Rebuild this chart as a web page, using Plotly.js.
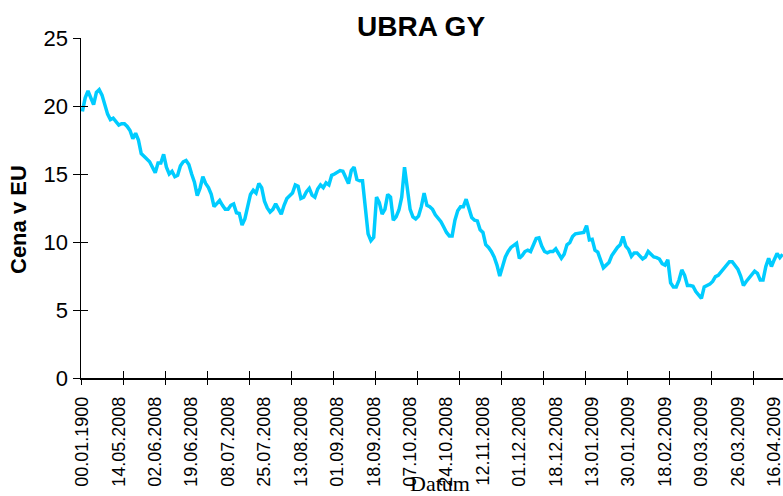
<!DOCTYPE html>
<html>
<head>
<meta charset="utf-8">
<script src="https://cdn.plot.ly/plotly-3.0.1.min.js"></script>
<style>html,body{margin:0;padding:0;background:#fff;}#chart{width:783px;height:496px;}</style>
</head>
<body>
<div id="chart"></div>
<script>
// Category tick labels (one every 13 trading days)
var tickLabels = ["00.01.1900","14.05.2008","02.06.2008","19.06.2008","08.07.2008","25.07.2008",
  "13.08.2008","01.09.2008","18.09.2008","07.10.2008","24.10.2008","12.11.2008","01.12.2008",
  "18.12.2008","13.01.2009","30.01.2009","18.02.2009","09.03.2009","26.03.2009","16.04.2009"];

// Price in EUR, one value per trading day
var prices = [
 19.6,20.6,21.1,20.6,20.1,21.0,21.2,20.8,20.0,19.4,
 19.0,19.1,18.85,18.6,18.7,18.7,18.5,18.2,17.6,18.0,
 17.5,16.5,16.3,16.1,15.9,15.5,15.1,15.8,15.8,16.45,
 15.5,15.0,15.2,14.8,14.9,15.6,15.9,16.0,15.7,15.0,
 14.4,13.4,13.95,14.8,14.3,14.0,13.5,12.6,12.8,13.05,
 12.7,12.4,12.4,12.7,12.8,12.15,12.1,11.25,11.7,12.6,
 13.5,13.8,13.6,14.3,14.0,13.0,12.5,12.2,12.4,12.8,
 12.35,12.05,12.7,13.2,13.4,13.6,14.2,14.1,13.2,13.3,
 13.7,13.95,13.45,13.3,13.9,14.2,14.0,14.35,14.2,14.9,
 15.0,15.1,15.25,15.2,14.7,14.3,15.25,15.5,14.6,14.5,
 14.5,12.8,10.6,10.1,10.35,13.3,12.9,12.05,12.4,13.5,
 13.3,11.6,11.85,12.35,13.3,15.5,13.8,12.4,11.85,11.7,
 11.9,12.6,13.6,12.7,12.6,12.4,12.0,11.75,11.5,11.1,
 10.7,10.45,10.45,11.6,12.3,12.6,12.6,13.15,12.55,11.8,
 11.6,11.55,10.9,10.7,9.8,9.6,9.3,8.9,8.3,7.5,
 8.2,8.9,9.3,9.6,9.75,9.9,8.8,9.0,9.3,9.4,
 9.3,9.8,10.25,10.3,9.7,9.3,9.2,9.3,9.3,9.5,
 9.1,8.8,9.1,9.8,9.95,10.4,10.6,10.65,10.65,10.7,
 11.2,10.15,10.2,9.4,9.25,8.7,8.1,8.3,8.5,9.0,
 9.35,9.6,9.8,10.4,9.7,9.45,8.95,9.2,9.2,8.95,
 8.75,8.9,9.3,9.1,8.9,8.85,8.75,8.4,8.3,8.7,
 7.0,6.7,6.7,7.2,7.95,7.55,6.8,6.8,6.75,6.35,
 6.1,5.85,6.7,6.8,6.9,7.1,7.45,7.55,7.8,8.1,
 8.3,8.55,8.55,8.3,8.0,7.5,6.8,7.1,7.35,7.7,
 7.85,7.7,7.2,7.2,8.2,8.8,8.2,8.7,9.15,8.85,
 9.1
];

var labelEvery = 13, tickEvery = 15;
var idx = prices.map(function(_, i){ return i; });
var labelPos = tickLabels.map(function(_, k){ return k * labelEvery; });
var tickPos = [];
for (var t = -0.5; t < 260; t += tickEvery) tickPos.push(t);
var yTicks = [0,5,10,15,20,25];

var xr = [-0.5, -0.5 + 702/2.801];
var font = "Liberation Sans, Arial, sans-serif";

var data = [
  {x: idx, y: prices, type: 'scatter', mode: 'lines',
   line: {color: '#00CCFF', width: 3.5}, hoverinfo: 'skip', showlegend: false},
  {x: [], y: [], xaxis: 'x2', yaxis: 'y', type: 'scatter', showlegend: false},
  {x: [], y: [], xaxis: 'x3', yaxis: 'y2', type: 'scatter', showlegend: false}
];

var layout = {
  width: 783, height: 496,
  margin: {l: 81, r: 0, t: 38, b: 118, pad: 0},
  paper_bgcolor: '#ffffff', plot_bgcolor: '#ffffff',
  showlegend: false,
  xaxis: {
    range: xr, tickmode: 'array', tickvals: labelPos, ticktext: tickLabels,
    tickangle: -90, ticks: '', ticklabelstandoff: 10, ticklabeloverflow: 'allow',
    tickfont: {family: font, size: 18, color: '#000'},
    showline: true, linecolor: '#000', linewidth: 1.5,
    showgrid: false, zeroline: false, fixedrange: true
  },
  xaxis2: {
    overlaying: 'x', anchor: 'y', side: 'bottom', range: xr,
    tickmode: 'array', tickvals: tickPos, ticks: 'outside', ticklen: 6,
    tickcolor: '#000', tickwidth: 1, showticklabels: false,
    showline: false, showgrid: false, zeroline: false
  },
  xaxis3: {
    overlaying: 'x', anchor: 'y', side: 'bottom', range: xr,
    tickmode: 'array', tickvals: tickPos, ticks: 'inside', ticklen: 7,
    tickcolor: '#000', tickwidth: 1, showticklabels: false,
    showline: false, showgrid: false, zeroline: false
  },
  yaxis: {
    range: [0, 25], tickmode: 'array', tickvals: yTicks,
    ticks: 'outside', ticklen: 7, tickcolor: '#000', tickwidth: 1,
    tickfont: {family: font, size: 22, color: '#000'},
    showline: true, linecolor: '#000', linewidth: 1.5,
    showgrid: false, zeroline: false, fixedrange: true
  },
  yaxis2: {
    overlaying: 'y', anchor: 'x', side: 'left', range: [0, 25],
    tickmode: 'array', tickvals: yTicks, ticks: 'inside', ticklen: 7,
    tickcolor: '#000', tickwidth: 1, showticklabels: false,
    showline: false, showgrid: false, zeroline: false
  },
  annotations: [
    {text: '<b>UBRA GY</b>', xref: 'paper', yref: 'paper',
     x: (421 - 81) / 702, y: (378 - 27) / 340, xanchor: 'center', yanchor: 'middle',
     showarrow: false, font: {family: font, size: 28, color: '#000'}},
    {text: '<b>Cena v EU</b>', xref: 'paper', yref: 'paper', textangle: -90,
     x: (18 - 81) / 702, y: (378 - 220) / 340, xanchor: 'center', yanchor: 'middle',
     showarrow: false, font: {family: font, size: 22, color: '#000'}},
    {text: 'Datum', xref: 'paper', yref: 'paper',
     x: (440 - 81) / 702, y: (378 - 483) / 340, xanchor: 'center', yanchor: 'middle',
     showarrow: false, font: {family: 'Liberation Serif, Times New Roman, serif', size: 22, color: '#000'}}
  ]
};

Plotly.newPlot('chart', data, layout, {staticPlot: true, displayModeBar: false});
</script>
</body>
</html>
